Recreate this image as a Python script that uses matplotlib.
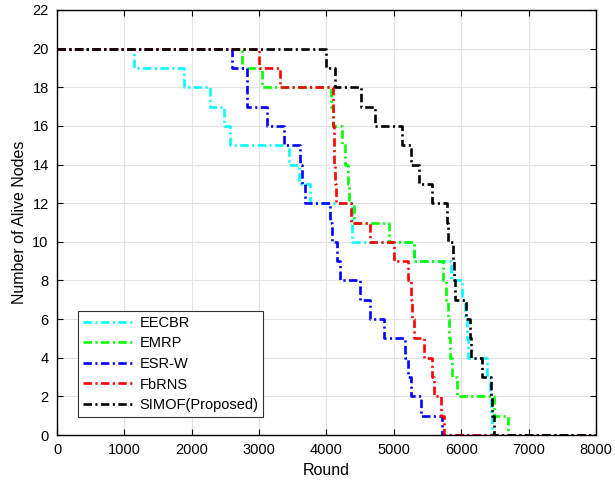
import numpy as np
import matplotlib.pyplot as plt

plt.rcParams['font.family'] = ['Liberation Sans', 'DejaVu Sans']

# round at which the alive count changes, and alive nodes after it
eecbr_x = [0, 1146, 1881, 2268, 2476, 2565, 3438, 3586, 3760, 4380, 5298, 5844,
           6018, 6050, 6080, 6100, 6390, 6430, 6440, 6450, 8000]
eecbr_y = [20, 19, 18, 17, 16, 15, 14, 13, 12, 10, 9, 8,
           7, 6, 5, 4, 3, 2, 1, 0, 0]

emrp_x = [0, 2748, 3042, 4062, 4090, 4225, 4280, 4320, 4340, 4405, 4926, 5298,
          5730, 5770, 5800, 5815, 5840, 5870, 5943, 6480, 6688, 8000]
emrp_y = [20, 19, 18, 17, 16, 15, 14, 13, 12, 11, 10, 9,
          8, 7, 6, 5, 4, 3, 2, 1, 0, 0]

esrw_x = [0, 2600, 2818, 2822, 3116, 3363, 3611, 3640, 3686, 4048, 4085, 4158,
          4196, 4504, 4653, 4851, 5165, 5205, 5262, 5397, 5710, 8000]
esrw_y = [20, 19, 18, 17, 16, 15, 14, 13, 12, 11, 10, 9,
          8, 7, 6, 5, 4, 3, 2, 1, 0, 0]

fbrns_x = [0, 2991, 3314, 4095, 4100, 4105, 4110, 4131, 4146, 4370, 4653, 5000,
           5205, 5249, 5270, 5298, 5446, 5571, 5590, 5695, 5744, 8000]
fbrns_y = [20, 19, 18, 17, 16, 15, 14, 13, 12, 11, 10, 9,
           8, 7, 6, 5, 4, 3, 2, 1, 0, 0]

simof_x = [0, 3999, 4132, 4515, 4713, 5125, 5249, 5372, 5571, 5795, 5805, 5880,
           5893, 5910, 6065, 6130, 6140, 6313, 6440, 6460, 6488, 8000]
simof_y = [20, 19, 18, 17, 16, 15, 14, 13, 12, 11, 10, 9,
           8, 7, 6, 5, 4, 3, 2, 1, 0, 0]

series = [
    ('EECBR', eecbr_x, eecbr_y, (0, 1, 1)),
    ('EMRP', emrp_x, emrp_y, (0, 1, 0)),
    ('ESR-W', esrw_x, esrw_y, (0, 0, 1)),
    ('FbRNS', fbrns_x, fbrns_y, (1, 0, 0)),
    ('SIMOF(Proposed)', simof_x, simof_y, (0, 0, 0)),
]

fig = plt.figure(figsize=(6.15, 4.9), dpi=100)
ax = fig.add_axes([0.0927, 0.1122, 0.8763, 0.8674])

for name, x, y, c in series:
    ax.plot(x, y, drawstyle='steps-post', color=c, lw=1.9,
            linestyle=(0, (3.2, 1.3, 0.8, 1.3)), label=name)

ax.set_xlim(0, 8000)
ax.set_ylim(0, 22)
ax.set_xticks(np.arange(0, 8001, 1000))
ax.set_yticks(np.arange(0, 23, 2))
ax.grid(True, color='#e3e3e3', lw=0.8)
ax.set_axisbelow(True)
ax.tick_params(direction='in', top=True, right=True, labelsize=10.5,
               length=4, pad=6)
for s in ax.spines.values():
    s.set_linewidth(1.0)

ax.set_xlabel('Round', fontsize=11.5, labelpad=4)
ax.set_ylabel('Number of Alive Nodes', fontsize=11.5, labelpad=4)

leg = ax.legend(loc='lower left', bbox_to_anchor=(0.039, 0.042), fontsize=10.5,
                handlelength=3.5, handletextpad=0.35, fancybox=False,
                framealpha=1, edgecolor='#333333', borderpad=0.35,
                labelspacing=0.45, borderaxespad=0)
leg.get_frame().set_linewidth(0.8)

plt.savefig('out.png', dpi=100)
